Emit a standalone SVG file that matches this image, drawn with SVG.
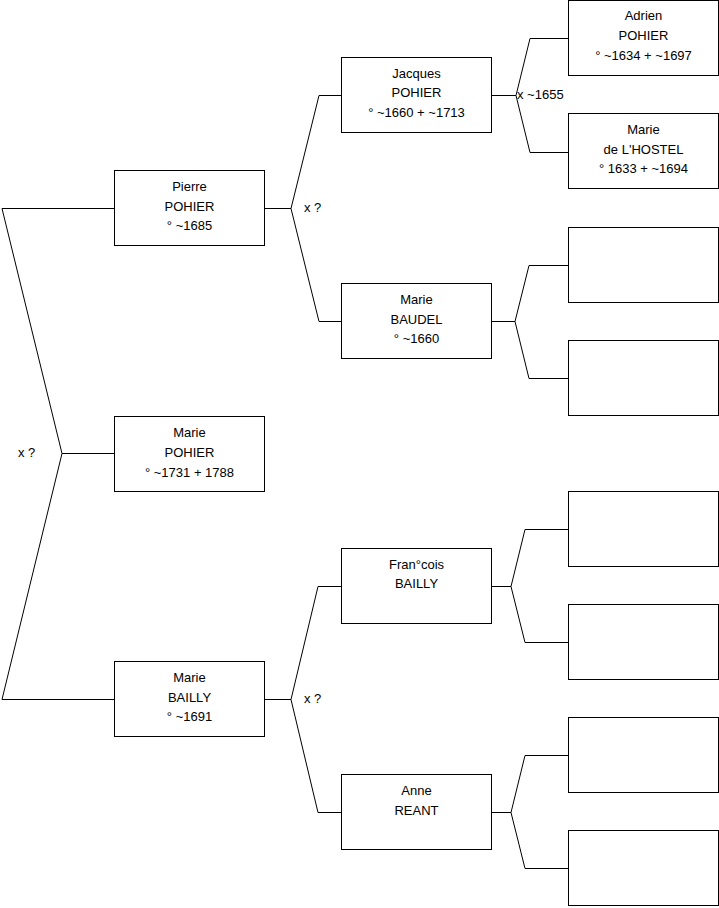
<svg xmlns="http://www.w3.org/2000/svg" width="719" height="908" viewBox="0 0 719 908">
<style>
.box{fill:#fff;stroke:#000;stroke-width:1}
.ln{fill:none;stroke:#000;stroke-width:1}
text{font-family:"Liberation Sans",Arial,sans-serif;font-size:13px;fill:#000}
.c{text-anchor:middle}
</style>
<rect width="719" height="908" fill="#fff"/>
<g id="connectors">
<polyline class="ln" points="114,208.5 2,208.5 62,453.5 2,699.5 114,699.5"/>
<line class="ln" x1="62" y1="453.5" x2="114" y2="453.5"/>
<polyline class="ln" points="265,208.5 291,208.5"/>
<polyline class="ln" points="341,95.5 319,95.5 291,208.5 319,321.5 341,321.5"/>
<polyline class="ln" points="265,699.5 291,699.5"/>
<polyline class="ln" points="341,586.5 318,586.5 291,699.5 318,812.5 341,812.5"/>
<line class="ln" x1="491" y1="95.5" x2="516" y2="95.5"/>
<polyline class="ln" points="568,38.5 530,38.5 516,95.5 530,152.5 568,152.5"/>
<line class="ln" x1="491" y1="321.5" x2="515" y2="321.5"/>
<polyline class="ln" points="568,265.5 529,265.5 515,321.5 529,378.5 568,378.5"/>
<line class="ln" x1="491" y1="586.5" x2="511" y2="586.5"/>
<polyline class="ln" points="568,529.5 525,529.5 511,586.5 525,642.5 568,642.5"/>
<line class="ln" x1="491" y1="812.5" x2="511" y2="812.5"/>
<polyline class="ln" points="568,755.5 525,755.5 511,812.5 525,868.5 568,868.5"/>
<text x="18" y="457">x ?</text>
<text x="304" y="212">x ?</text>
<text x="304" y="703">x ?</text>
<text x="517" y="99">x ~1655</text>
</g>
<g id="marie-pohier">
<rect class="box" x="114.5" y="416.5" width="150" height="75"/>
<text class="c" x="189.5" y="437">Marie</text>
<text class="c" x="189.5" y="457">POHIER</text>
<text class="c" x="189.5" y="477">° ~1731 + 1788</text>
</g>
<g id="pierre-pohier">
<rect class="box" x="114.5" y="170.5" width="150" height="75"/>
<text class="c" x="189.5" y="191">Pierre</text>
<text class="c" x="189.5" y="211">POHIER</text>
<text class="c" x="189.5" y="230">° ~1685</text>
</g>
<g id="marie-bailly">
<rect class="box" x="114.5" y="661.5" width="150" height="75"/>
<text class="c" x="189.5" y="682">Marie</text>
<text class="c" x="189.5" y="702">BAILLY</text>
<text class="c" x="189.5" y="721">° ~1691</text>
</g>
<g id="jacques-pohier">
<rect class="box" x="341.5" y="57.5" width="150" height="75"/>
<text class="c" x="416.5" y="78">Jacques</text>
<text class="c" x="416.5" y="97">POHIER</text>
<text class="c" x="416.5" y="117">° ~1660 + ~1713</text>
</g>
<g id="marie-baudel">
<rect class="box" x="341.5" y="283.5" width="150" height="75"/>
<text class="c" x="416.5" y="304">Marie</text>
<text class="c" x="416.5" y="324">BAUDEL</text>
<text class="c" x="416.5" y="343">° ~1660</text>
</g>
<g id="francois-bailly">
<rect class="box" x="341.5" y="548.5" width="150" height="75"/>
<text class="c" x="416.5" y="569">Fran°cois</text>
<text class="c" x="416.5" y="588">BAILLY</text>
</g>
<g id="anne-reant">
<rect class="box" x="341.5" y="774.5" width="150" height="75"/>
<text class="c" x="416.5" y="795">Anne</text>
<text class="c" x="416.5" y="815">REANT</text>
</g>
<g id="adrien-pohier">
<rect class="box" x="568.5" y="0.5" width="150" height="75"/>
<text class="c" x="643.5" y="20">Adrien</text>
<text class="c" x="643.5" y="40">POHIER</text>
<text class="c" x="643.5" y="60">° ~1634 + ~1697</text>
</g>
<g id="marie-lhostel">
<rect class="box" x="568.5" y="113.5" width="150" height="75"/>
<text class="c" x="643.5" y="134">Marie</text>
<text class="c" x="643.5" y="154">de L'HOSTEL</text>
<text class="c" x="643.5" y="173">° 1633 + ~1694</text>
</g>
<g id="blank-1"><rect class="box" x="568.5" y="227.5" width="150" height="75"/></g>
<g id="blank-2"><rect class="box" x="568.5" y="340.5" width="150" height="75"/></g>
<g id="blank-3"><rect class="box" x="568.5" y="491.5" width="150" height="75"/></g>
<g id="blank-4"><rect class="box" x="568.5" y="604.5" width="150" height="75"/></g>
<g id="blank-5"><rect class="box" x="568.5" y="717.5" width="150" height="75"/></g>
<g id="blank-6"><rect class="box" x="568.5" y="830.5" width="150" height="75"/></g>
</svg>
